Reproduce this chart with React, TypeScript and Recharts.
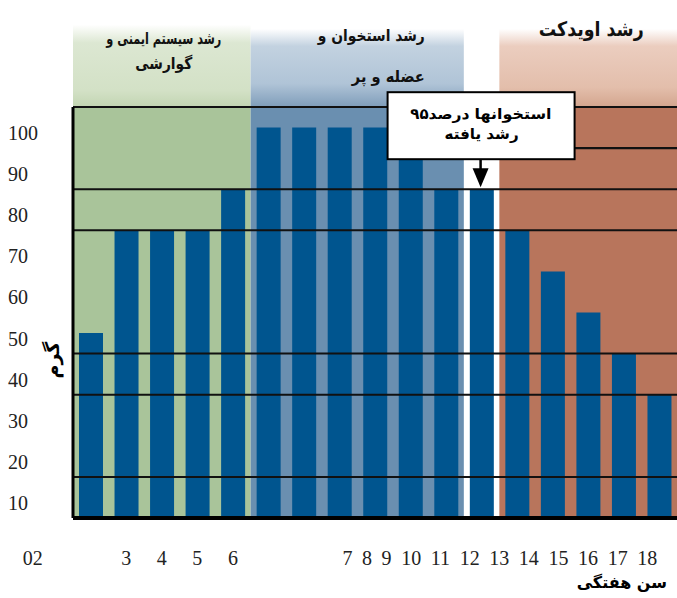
import React from "react";
import { BarChart, Bar, XAxis, YAxis, ReferenceArea, ReferenceLine, ReferenceDot } from "recharts";

// weeks on the x axis, body weight per week
const weeks = ["02", "3", "4", "5", "6", "7", "8", "9", "10", "11", "12", "13", "14", "15", "16", "17", "18"];
const weights = [45, 70, 70, 70, 80, 95, 95, 95, 95, 95, 80, 80, 70, 60, 50, 40, 30];
const yTicks = [10, 20, 30, 40, 50, 60, 70, 80, 90, 100];
const gridLines = [100, 80, 70, 40, 30, 10];

const stageImmune = ["رشد سیستم ایمنی و", "گوارشی"];
const stageBone = ["رشد استخوان و", "عضله و پر"];
const stageOviduct = ["رشد اویدکت"];
const calloutWords = ["۹۵", "درصد", "استخوانها"];
const calloutSecond = "رشد یافته";
const xTitle = "سن هفتگی";
const yTitle = "گرم";

const data = weeks.map((week, i) => ({ week, weight: weights[i] }));

const SERIF = "'Liberation Serif', 'Times New Roman', serif";
const ARABIC = "'DejaVu Sans', sans-serif";
const BAR = "#00558f";

const YTick = (props: any) => {
  const { x, y, payload } = props;
  return (
    <text x={x - 65} y={y + 33} textAnchor="start" fontFamily={SERIF} fontSize={20} fill="#222">
      {payload.value}
    </text>
  );
};

// the first label sits off to the left, weeks 7..18 run together as one line
const XTick = (props: any) => {
  const { x, y, index, payload } = props;
  const common = { y: y + 47, fontFamily: SERIF, fontSize: 20, fill: "#222" };
  if (index === 0) {
    return <text x={x - 58} textAnchor="middle" {...common}>{payload.value}</text>;
  }
  if (index >= 1 && index <= 4) {
    return <text x={x} textAnchor="middle" {...common}>{payload.value}</text>;
  }
  if (index === weeks.length - 1) {
    return (
      <text x={x - 2} textAnchor="end" wordSpacing={4.6} {...common}>
        {weeks.slice(5).join(" ")}
      </text>
    );
  }
  return <g />;
};

// stage caption drawn inside the header strip of each band
const StageLabel = (props: any) => {
  const { viewBox, lines, align, dx = 0, baselines, widths, size } = props;
  const { x, y, width } = viewBox;
  const tx = align === "end" ? x + width + dx : x + width / 2 + dx;
  return (
    <g>
      {lines.map((line: string, i: number) => (
        <text
          key={i}
          x={tx}
          y={y + baselines[i]}
          textAnchor={align}
          textLength={widths[i]}
          lengthAdjust="spacingAndGlyphs"
          fontFamily={ARABIC}
          fontWeight="bold"
          fontSize={size}
          fill="#111"
        >
          {line}
        </text>
      ))}
    </g>
  );
};

const Callout = (props: any) => {
  const { cx, cy } = props;
  const txt = { fontFamily: ARABIC, fontWeight: "bold", fontSize: 15, fill: "#000" } as const;
  return (
    <g>
      <rect x={cx - 94} y={cy - 97} width={187} height={67} fill="#fff" stroke="#000" strokeWidth={2} />
      <text x={cx - 53} y={cy - 70} textAnchor="end" {...txt}>{calloutWords[0]}</text>
      <text x={cx - 53} y={cy - 70} textAnchor="start" textLength={41} lengthAdjust="spacingAndGlyphs" {...txt}>
        {calloutWords[1]}
      </text>
      <text x={cx + 70} y={cy - 70} textAnchor="end" textLength={77} lengthAdjust="spacingAndGlyphs" {...txt}>
        {calloutWords[2]}
      </text>
      <text x={cx} y={cy - 50} textAnchor="middle" textLength={74} lengthAdjust="spacingAndGlyphs" {...txt}>
        {calloutSecond}
      </text>
      <line x1={cx - 1} y1={cy - 30} x2={cx - 1} y2={cy - 18} stroke="#000" strokeWidth={2.5} />
      <polygon points={`${cx - 9},${cy - 21} ${cx + 7},${cy - 21} ${cx - 1},${cy - 2}`} fill="#000" />
    </g>
  );
};

export default function App() {
  return (
    <div>
      <style>{"body{margin:0}"}</style>
      <BarChart width={677} height={598} data={data} margin={{ top: 107, right: 0, bottom: 50, left: 0 }} barSize={24}>
        <defs>
          <linearGradient id="headGreen" x1="0" y1="0" x2="0" y2="1">
            <stop offset="0%" stopColor="#ffffff" />
            <stop offset="22%" stopColor="#dce7d2" />
            <stop offset="80%" stopColor="#d3e1c6" />
            <stop offset="100%" stopColor="#c2d5b2" />
          </linearGradient>
          <linearGradient id="headBlue" x1="0" y1="0" x2="0" y2="1">
            <stop offset="0%" stopColor="#ffffff" />
            <stop offset="22%" stopColor="#c3d2e0" />
            <stop offset="70%" stopColor="#b0c4d7" />
            <stop offset="100%" stopColor="#7f9dba" />
          </linearGradient>
          <linearGradient id="headRed" x1="0" y1="0" x2="0" y2="1">
            <stop offset="0%" stopColor="#ffffff" />
            <stop offset="22%" stopColor="#ebcdbf" />
            <stop offset="75%" stopColor="#e3beab" />
            <stop offset="100%" stopColor="#d3a58e" />
          </linearGradient>
        </defs>

        <XAxis
          dataKey="week"
          height={30}
          interval={0}
          tickLine={false}
          tickSize={0}
          tickMargin={0}
          axisLine={{ stroke: "#000", strokeWidth: 4 }}
          tick={<XTick />}
        />
        <YAxis
          domain={[0, 100]}
          ticks={yTicks}
          width={73}
          tickLine={false}
          tickSize={0}
          tickMargin={0}
          axisLine={{ stroke: "#000", strokeWidth: 3 }}
          tick={<YTick />}
        />

        {/* stage bands: header strip above the plot, solid fill inside */}
        <ReferenceArea
          x1="02" x2="6" y1={100} y2={120} ifOverflow="visible" fill="url(#headGreen)" fillOpacity={1}
          label={<StageLabel lines={stageImmune} align="middle" dx={2} baselines={[19, 44]} widths={[115, 57]} size={16} />}
        />
        <ReferenceArea
          x1="7" x2="12" y1={100} y2={119} ifOverflow="visible" fill="url(#headBlue)" fillOpacity={1}
          label={<StageLabel lines={stageBone} align="end" dx={-39} baselines={[12, 53]} widths={[107, 73]} size={16} />}
        />
        <ReferenceArea
          x1="14" x2="18" y1={100} y2={119} ifOverflow="visible" fill="url(#headRed)" fillOpacity={1}
          label={<StageLabel lines={stageOviduct} align="middle" dx={3} baselines={[7]} widths={[105]} size={20} />}
        />
        <ReferenceArea x1="02" x2="6" y1={0} y2={100} fill="#a9c49a" fillOpacity={1} />
        <ReferenceArea x1="7" x2="12" y1={0} y2={100} fill="#6a8fb0" fillOpacity={1} />
        <ReferenceArea x1="14" x2="18" y1={0} y2={100} fill="#b8755c" fillOpacity={1} />
        <ReferenceArea x1="14" x2="18" y1={89.75} y2={90.25} fill="#111" fillOpacity={1} />

        <Bar dataKey="weight" fill={BAR} isAnimationActive={false} />

        {gridLines.map((v) => (
          <ReferenceLine key={v} y={v} stroke="#111" strokeWidth={2} />
        ))}

        <ReferenceDot x="13" y={80} ifOverflow="visible" shape={<Callout />} />

        <text x={667} y={588} textAnchor="end" fontFamily={ARABIC} fontWeight="bold" fontSize={16} fill="#000">
          {xTitle}
        </text>
        <text
          x={52}
          y={360}
          textAnchor="middle"
          dominantBaseline="central"
          transform="rotate(-90 52 360)"
          fontFamily={ARABIC}
          fontWeight="bold"
          fontSize={19}
          fill="#000"
        >
          {yTitle}
        </text>
      </BarChart>
    </div>
  );
}
